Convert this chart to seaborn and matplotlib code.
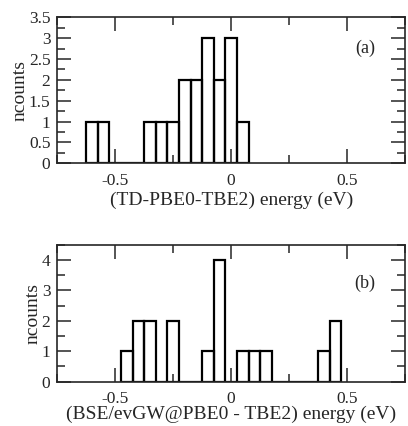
import numpy as np
import pandas as pd
import seaborn as sns
import matplotlib.pyplot as plt
from matplotlib.ticker import MultipleLocator, FormatStrFormatter

# histogram data: bin centres (eV) and counts
centers_a = [-0.60, -0.55, -0.35, -0.30, -0.25, -0.20, -0.15, -0.10, -0.05, 0.00, 0.05]
counts_a = [1, 1, 1, 1, 1, 2, 2, 3, 2, 3, 1]

centers_b = [-0.45, -0.40, -0.35, -0.25, -0.10, -0.05, 0.05, 0.10, 0.15, 0.40, 0.45]
counts_b = [1, 2, 2, 2, 1, 4, 1, 1, 1, 1, 2]

xlabel_a = "(TD-PBE0-TBE2) energy (eV)"
xlabel_b = "(BSE/evGW@PBE0 - TBE2) energy (eV)"
xtick_labels = ["-0.5", "0", "0.5"]

sns.set_style("ticks")
plt.rcParams['font.family'] = ['Liberation Serif', 'DejaVu Serif']
plt.rcParams['axes.unicode_minus'] = False

fig = plt.figure(figsize=(4.08, 4.26), dpi=100)
ax1 = fig.add_axes([0.1405, 0.6167, 0.852, 0.3427])
ax2 = fig.add_axes([0.1405, 0.104, 0.852, 0.3214])

df_a = pd.DataFrame({"energy": centers_a, "n": counts_a})
df_b = pd.DataFrame({"energy": centers_b, "n": counts_b})

sns.histplot(data=df_a, x="energy", weights="n", binwidth=0.05, binrange=(-0.625, 0.075),
             element="bars", fill=False, color="black", linewidth=1.6, ax=ax1)
sns.histplot(data=df_b, x="energy", weights="n", binwidth=0.05, binrange=(-0.475, 0.475),
             element="bars", fill=False, color="black", linewidth=1.6, ax=ax2)

for ax, ymax, ymaj, ymin, lab, lpad, tag, ty in [
        (ax1, 3.5, 0.5, 0.25, xlabel_a, 2, "(a)", 0.79),
        (ax2, 4.5, 1.0, 0.5, xlabel_b, -1, "(b)", 0.72)]:
    ax.set_xlim(-0.75, 0.75)
    ax.set_ylim(0, ymax)
    ax.set_xticks([-0.5, 0, 0.5])
    ax.set_xticklabels(xtick_labels)
    ax.xaxis.set_minor_locator(MultipleLocator(0.25))
    ax.yaxis.set_major_locator(MultipleLocator(ymaj))
    ax.yaxis.set_minor_locator(MultipleLocator(ymin))
    ax.yaxis.set_major_formatter(FormatStrFormatter('%g'))
    ax.tick_params(which='both', direction='in', top=True, right=True,
                   width=1.1, labelsize=12.5)
    ax.tick_params(axis='x', which='major', pad=7)
    ax.tick_params(axis='y', which='major', pad=5)
    ax.tick_params(which='major', length=10)
    ax.tick_params(which='minor', length=5.5)
    for s in ax.spines.values():
        s.set_linewidth(1.2)
    ax.set_xlabel(lab, fontsize=14, labelpad=lpad)
    ax.set_ylabel("ncounts", fontsize=14, labelpad=0)
    ax.text(0.885, ty, tag, transform=ax.transAxes,
            fontsize=13, ha='center', va='center')

fig.savefig("out.png", dpi=100)
